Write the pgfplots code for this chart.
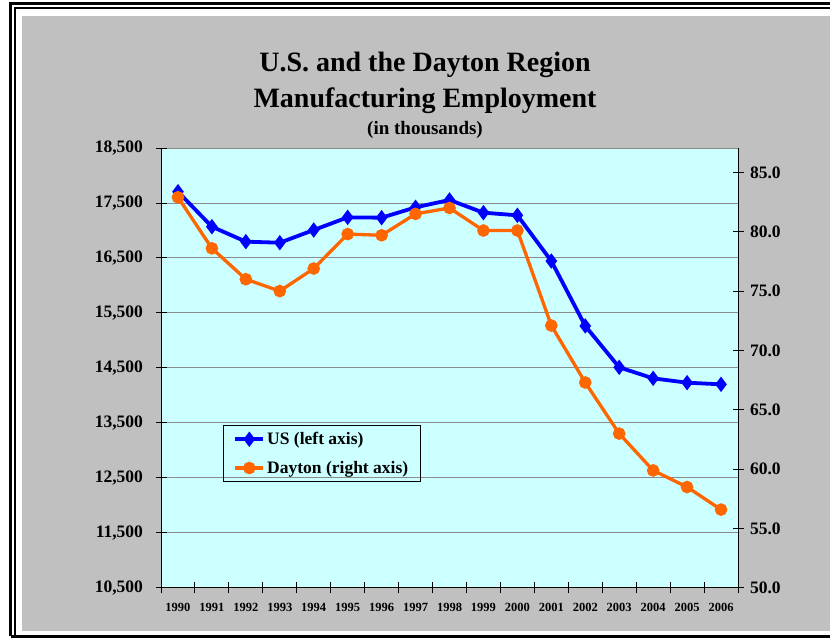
\documentclass[border=0pt]{standalone}
\usepackage{fontspec}
\setmainfont{Liberation Serif}
\usepackage{pgfplots}
\pgfplotsset{compat=1.18}
\definecolor{bgGray}{HTML}{C0C0C0}
\definecolor{plotCyan}{HTML}{CCFFFF}
\definecolor{usBlue}{HTML}{0000FF}
\definecolor{dayOrange}{HTML}{FF6600}
\definecolor{gridGray}{HTML}{8C8C8C}

\begin{document}
\begin{tikzpicture}[x=1pt,y=1pt]
\useasboundingbox (0,0) rectangle (830,639);
% frame
\fill[white] (0,0) rectangle (830,639);
\fill[bgGray] (22,8) rectangle (832,623);
\draw[line width=3pt] (10.5,2.5) -- (10.5,635.5) -- (835,635.5);
\draw[line width=2pt] (835,631) -- (15,631) -- (15,2.5);
\draw[line width=3pt] (10.5,2.5) -- (835,2.5);

% titles
\node[anchor=base,font=\fontsize{28}{30}\selectfont\bfseries] at (425,567) {U.S. and the Dayton Region};
\node[anchor=base,font=\fontsize{28}{30}\selectfont\bfseries] at (425,531) {Manufacturing Employment};
\node[anchor=base,font=\fontsize{19}{21}\selectfont\bfseries] at (425,504) {(in thousands)};

% left axis: US
\begin{axis}[
  at={(161pt,51pt)}, anchor=south west,
  scale only axis, width=577pt, height=440pt,
  xmin=-0.5, xmax=16.5, ymin=10500, ymax=18500,
  axis background/.style={fill=plotCyan},
  axis x line*=bottom, axis y line*=left,
  axis line style={black, line width=1pt, -},
  xtick={-0.5,0.5,...,16.5}, xticklabels={},
  extra x ticks={0,1,2,3,4,5,6,7,8,9,10,11,12,13,14,15,16},
  extra x tick labels={1990,1991,1992,1993,1994,1995,1996,1997,1998,1999,2000,2001,2002,2003,2004,2005,2006},
  extra x tick style={major tick length=0pt, xticklabel style={font=\fontsize{12.5}{14}\selectfont\bfseries, yshift=-12pt}},
  ytick={10500,11500,...,18500},
  scaled y ticks=false,
  tick align=center, major tick length=11pt,
  tick style={black, line width=1pt},
  ymajorgrids, major grid style={gridGray, line width=1pt},
  /pgf/number format/fixed,
  /pgf/number format/1000 sep={,},
  /pgf/number format/assume math mode=true,
  yticklabel style={font=\fontsize{17.5}{19}\selectfont\bfseries, xshift=-9pt},
]
\addplot[usBlue, line width=3.8pt, mark=diamond*, mark size=4.6pt, mark options={solid}]
  coordinates {(0,17705) (1,17069) (2,16797) (3,16778) (4,17009) (5,17239) (6,17233)
    (7,17421) (8,17555) (9,17324) (10,17276) (11,16445) (12,15264) (13,14512)
    (14,14312) (15,14233) (16,14203)};
\end{axis}

% right axis: Dayton
\begin{axis}[
  at={(161pt,51pt)}, anchor=south west,
  scale only axis, width=577pt, height=440pt,
  xmin=-0.5, xmax=16.5, ymin=50, ymax=87.05,
  axis x line=none, axis y line*=right,
  axis line style={black, line width=1pt, -},
  ytick={50,55,...,85},
  tick align=center, major tick length=11pt,
  tick style={black, line width=1pt},
  /pgf/number format/assume math mode=true,
  yticklabel style={font=\fontsize{17.5}{19}\selectfont\bfseries, xshift=3pt,
    /pgf/number format/.cd, fixed, fixed zerofill, precision=1},
  legend style={at={(0.1075,0.3705)}, anchor=north west, draw=black, line width=0.8pt,
    fill=none, font=\fontsize{17.5}{19}\selectfont\bfseries,
    inner xsep=10pt, inner ysep=5pt, row sep=11pt},
  legend cell align=left,
  legend image code/.code={\draw[mark repeat=2, mark phase=2, #1] plot coordinates {(0pt,0pt) (14pt,0pt) (28pt,0pt)};},
]
\addlegendimage{usBlue, line width=3.8pt, mark=diamond*, mark size=4.6pt}
\addlegendentry{US (left axis)}
\addplot[dayOrange, line width=3.3pt, mark=*, mark size=4.6pt]
  coordinates {(0,82.9) (1,78.6) (2,76.0) (3,75.0) (4,76.9) (5,79.8) (6,79.7)
    (7,81.5) (8,82.0) (9,80.1) (10,80.1) (11,72.1) (12,67.3) (13,63.0)
    (14,59.9) (15,58.5) (16,56.6)};
\addlegendentry{Dayton (right axis)}
\end{axis}
\end{tikzpicture}
\end{document}
